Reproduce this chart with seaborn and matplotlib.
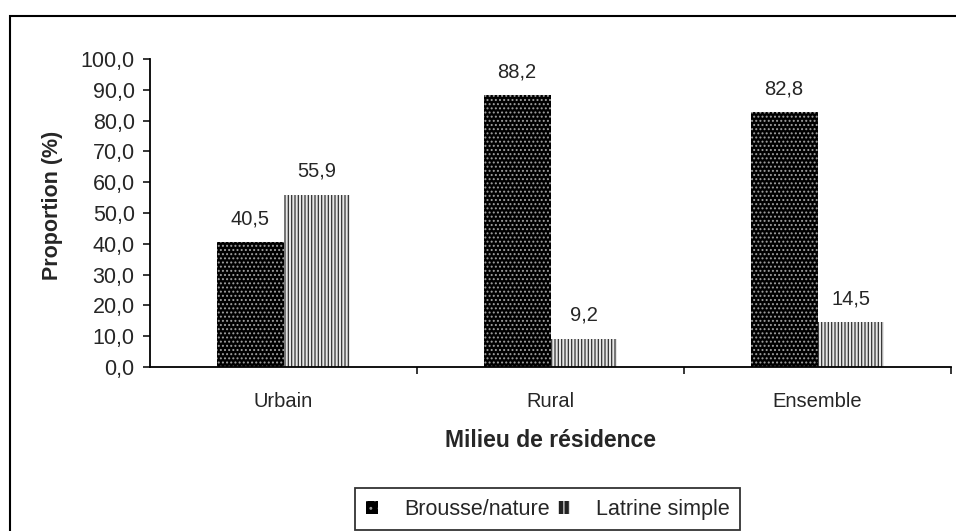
import numpy as np
import pandas as pd
import matplotlib
matplotlib.use("Agg")
import matplotlib.pyplot as plt
from matplotlib.patches import Rectangle, Patch
from matplotlib.ticker import FixedLocator
import seaborn as sns

# --- Data ---
milieux = ["Urbain", "Rural", "Ensemble"]
brousse = [40.5, 88.2, 82.8]
latrine = [55.9, 9.2, 14.5]
series_names = ["Brousse/nature", "Latrine simple"]
y_ticks = [0, 10, 20, 30, 40, 50, 60, 70, 80, 90, 100]
y_tick_labels = [f"{v:.1f}".replace(".", ",") for v in y_ticks]

df = pd.DataFrame({
    "milieu": milieux * 2,
    "type": [series_names[0]] * 3 + [series_names[1]] * 3,
    "proportion": brousse + latrine,
})

# --- Style ---
sns.set_style("white")
plt.rcParams["font.family"] = ["Liberation Sans", "DejaVu Sans"]
plt.rcParams["hatch.linewidth"] = 0.9

FS = 14.5
fig = plt.figure(figsize=(9.56, 5.31), dpi=100)
ax = fig.add_axes([0.1569, 0.3089, 0.8379, 0.5800])

sns.barplot(data=df, x="milieu", y="proportion", hue="type",
            palette=["black", "white"], width=0.5, gap=0,
            order=milieux, hue_order=series_names, legend=False, ax=ax)

# hatches: grey dots on black, dark vertical stripes on light grey
styles = [("black", "#a0a0a0", "...."), ("#e6e6e6", "#333333", "|||||")]
for cont, (fc, hc, hatch) in zip(ax.containers, styles):
    for bar in cont:
        bar.set_facecolor(fc)
        bar.set_edgecolor(hc)
        bar.set_hatch(hatch)
        bar.set_linewidth(0)

for cont, vals in zip(ax.containers, [brousse, latrine]):
    ax.bar_label(cont, labels=[f"{v:.1f}".replace(".", ",") for v in vals],
                 padding=10, fontsize=FS)

# --- Axes ---
ax.set_xlim(-0.5, 2.5)
ax.set_ylim(0, 100)
ax.set_yticks(y_ticks)
ax.set_yticklabels(y_tick_labels, fontsize=15.5)
ax.tick_params(axis="y", direction="out", length=5, width=1.3, pad=6, left=True)
ax.tick_params(axis="x", which="major", length=0, pad=18, labelsize=FS)
ax.xaxis.set_minor_locator(FixedLocator([0.5, 1.5, 2.5]))
ax.tick_params(axis="x", which="minor", direction="out", length=5, width=1.3, bottom=True)
for s in ["top", "right"]:
    ax.spines[s].set_visible(False)
for s in ["left", "bottom"]:
    ax.spines[s].set_color("black")
    ax.spines[s].set_linewidth(1.3)

ax.set_xlabel("Milieu de résidence", fontsize=16.5, fontweight="bold", labelpad=13)
ax.set_ylabel("Proportion (%)", fontsize=15.5, fontweight="bold", labelpad=13)
ax.yaxis.label.set_y(0.525)

# --- Legend ---
handles = [Patch(facecolor=fc, edgecolor=hc, hatch=h, linewidth=0) for fc, hc, h in
           [("black", "#9a9a9a", ".."), ("#222222", "#dddddd", "|||")]]
leg = fig.legend(handles, series_names, loc="center", bbox_to_anchor=(0.573, 0.041),
                 ncol=2, fontsize=15.5, frameon=True, fancybox=False,
                 handlelength=0.55, handleheight=0.55, handletextpad=1.2,
                 columnspacing=0.4, borderpad=0.5, borderaxespad=0)
leg.get_frame().set_edgecolor("black")
leg.get_frame().set_linewidth(1.3)

# --- Outer frame (chart area border, cut at right and bottom) ---
frame = Rectangle((10 / 956, -0.2), 1.2, 0.2 + (531 - 16) / 531,
                  transform=fig.transFigure, fill=False, edgecolor="black",
                  linewidth=1.5, clip_on=False)
fig.patches.append(frame)

fig.savefig("out.png", dpi=100)
